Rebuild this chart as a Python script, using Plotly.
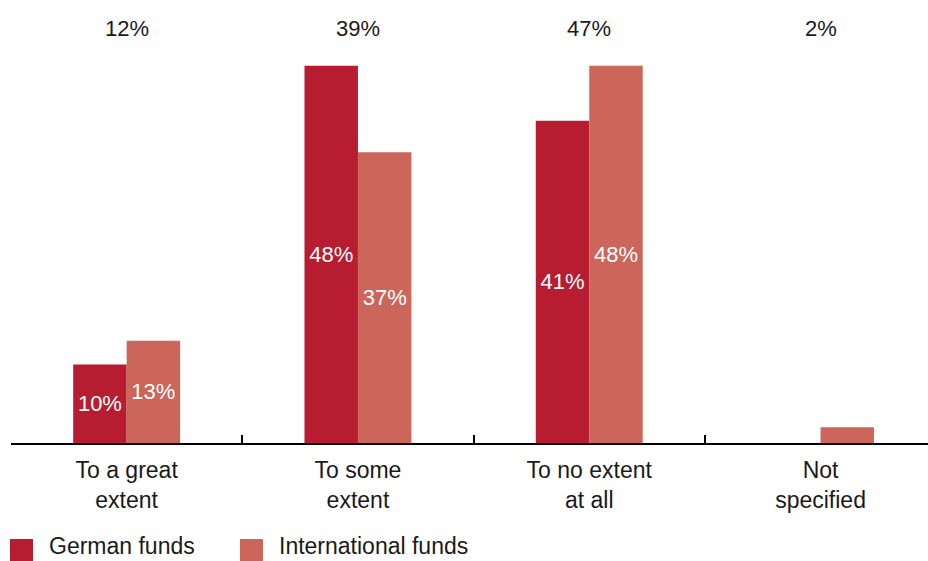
import plotly.graph_objects as go

# Survey answers per category
categories = ["To a great<br>extent", "To some<br>extent", "To no extent<br>at all", "Not<br>specified"]
german_funds = [10, 48, 41, 0]
international_funds = [13, 37, 48, 2]
overall = [12, 39, 47, 2]

series_names = ["German funds", "International funds"]
colors = ["#B81C31", "#CC665A"]

FONT = "Liberation Sans, Arial, Helvetica, sans-serif"
W, H = 928, 561
M_L, M_R, M_T, M_B = 11, 0, 3, 118
PW, PH = W - M_L - M_R, H - M_T - M_B


def px_x(x):
    return (x - M_L) / PW


def px_y(y):
    return (H - M_B - y) / PH


def labels(values):
    return [f"{v}%" if v >= 5 else "" for v in values]


fig = go.Figure()
for name, vals, col in zip(series_names, [german_funds, international_funds], colors):
    fig.add_trace(go.Bar(
        x=categories, y=vals, name=name, marker=dict(color=col, line=dict(width=0)),
        text=labels(vals), textposition="inside", insidetextanchor="middle",
        textfont=dict(family=FONT, size=22, color="white"), textangle=0,
        showlegend=False, hoverinfo="skip",
    ))

# Overall share above each category
for cat, v in zip(categories, overall):
    fig.add_annotation(x=cat, xref="x", y=px_y(29), yref="paper", yanchor="middle",
                       text=f"{v}%", showarrow=False,
                       font=dict(family=FONT, size=22, color="#1a1a1a"))

# Legend: colour squares with labels
legend_items = [(10, 48), (240, 278)]
for (sq_x, tx_x), name, col in zip(legend_items, series_names, colors):
    fig.add_shape(type="rect", xref="paper", yref="paper",
                  x0=px_x(sq_x), x1=px_x(sq_x + 23), y0=px_y(539), y1=px_y(561),
                  fillcolor=col, line=dict(width=0))
    fig.add_annotation(x=px_x(tx_x), xref="paper", y=px_y(560), yref="paper",
                       xanchor="left", yanchor="bottom", text=name, showarrow=False,
                       borderpad=0,
                       font=dict(family=FONT, size=23, color="#1a1a1a"))

cat_w = PW / 4
fig.update_layout(
    width=W, height=H,
    margin=dict(l=M_L, r=M_R, t=M_T, b=M_B),
    paper_bgcolor="white", plot_bgcolor="white",
    barmode="group", bargap=1 - 106 / cat_w, bargroupgap=0,
    font=dict(family=FONT, size=22, color="#1a1a1a"),
    xaxis=dict(
        type="category", range=[-0.5, -0.5 + PW / 231.3],
        showline=True, linecolor="black", linewidth=2,
        ticks="inside", tickson="boundaries", ticklen=8, tickwidth=2, tickcolor="black",
        ticklabelstandoff=5,
        showgrid=False, tickfont=dict(family=FONT, size=23, color="#1a1a1a"),
    ),
    yaxis=dict(range=[0, PH / 7.857], visible=False, showgrid=False, zeroline=False),
)

fig.write_html("out.html")
